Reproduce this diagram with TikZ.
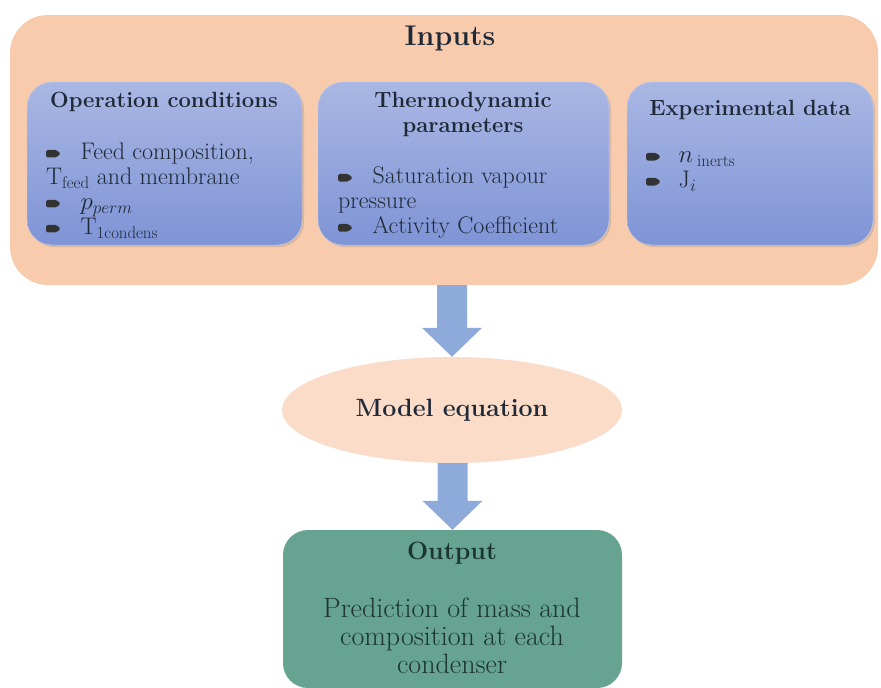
\documentclass[tikz,border=0pt]{standalone}
\usepackage{amsmath,amssymb}
\usepackage{tikz}
\usepackage{xcolor}
\usetikzlibrary{shapes.geometric,shadows,calc}

\definecolor{inpeach}{HTML}{F8CBAD}
\definecolor{elpeach}{HTML}{FBDCC9}
\definecolor{bluetop}{HTML}{A9B7E3}
\definecolor{bluebot}{HTML}{7F94D6}
\definecolor{arrowblue}{HTML}{8EAADB}
\definecolor{outgreen}{HTML}{66A390}
\definecolor{inktext}{HTML}{1F2937}
\definecolor{outtext}{HTML}{1C3530}

\newcommand{\pointer}{\tikz[baseline=-0.6ex]\fill[black!80,rounded corners=1.5pt] (0,-3.8pt) -- (10pt,-3.8pt) -- (14.5pt,0) -- (10pt,3.8pt) -- (0,3.8pt) -- cycle;}
\newcommand{\blockarrow}[2]{%
  \fill[arrowblue] let \p1=(#1), \p2=(#2) in
    (\x2-15pt,\y1) -- (\x2-15pt,\y2+29pt) -- (\x2-30pt,\y2+29pt) -- (\x2,\y2)
    -- (\x2+30pt,\y2+29pt) -- (\x2+15pt,\y2+29pt) -- (\x2+15pt,\y1) -- cycle;}

\begin{document}
\begin{tikzpicture}[x=1pt,y=-1pt,
    inbox/.style={fill=inpeach,rounded corners=38pt,inner sep=0},
    bluebox/.style={top color=bluetop,bottom color=bluebot,draw=bluetop!70!white,
        rounded corners=25pt,minimum height=163pt,inner sep=0,
        drop shadow={opacity=0.25,shadow xshift=2pt,shadow yshift=-2pt}},
    head/.style={text=inktext,font=\fontsize{22}{25}\selectfont\bfseries,align=center},
    items/.style={text=inktext,font=\fontsize{24}{25}\selectfont,align=left,
        anchor=north west,inner sep=0},
    model/.style={ellipse,fill=elpeach,minimum width=340pt,minimum height=106pt,
        inner sep=0,text=inktext,font=\fontsize{25}{28}\selectfont\bfseries},
    outbox/.style={fill=outgreen,rounded corners=25pt,minimum width=339pt,
        minimum height=158pt,inner sep=0}]
    \useasboundingbox (0,0) rectangle (881,688);

    % Inputs
    \node[inbox,minimum width=868pt,minimum height=270pt] (inputs) at (444,150) {};
    \node[text=inktext,font=\fontsize{28.5}{30}\selectfont\bfseries] (inputs-t) at (450,38) {Inputs};

    \node[bluebox,minimum width=275pt] (oc) at (164.5,163.5) {};
    \node[bluebox,minimum width=291pt] (tp) at (463.5,163.5) {};
    \node[bluebox,minimum width=246pt] (ed) at (750,163.5) {};

    \node[head] (oc-t) at (164,102) {Operation conditions};
    \node[head] (tp-t) at (463,114) {Thermodynamic\\parameters};
    \node[head] (ed-t) at (750,110) {Experimental data};

    \node[items] (oc-l) at (46,143) {\pointer\hspace{20pt}Feed composition,\\
        T$_{\text{feed}}$ and membrane\\
        \pointer\hspace{20pt}$p_{perm}$\\
        \pointer\hspace{20pt}T$_{\text{1condens}}$};
    \node[items] (tp-l) at (338,167) {\pointer\hspace{20pt}Saturation vapour\\
        pressure\\
        \pointer\hspace{20pt}Activity Coefficient};
    \node[items] (ed-l) at (646,152) {\pointer\hspace{18pt}$n$\,$_{\text{inerts}}$\\
        \pointer\hspace{18pt}J$_i$};

    % Model and output
    \node[model] (model) at (452,410) {Model equation};
    \node[outbox] (output) at (452.5,609) {};
    \node[text=outtext,font=\fontsize{25}{28}\selectfont\bfseries] (output-t) at (452,553) {Output};
    \node[text=outtext,font=\fontsize{28}{28}\selectfont,align=center] (output-l) at (452,636)
        {Prediction of mass and\\composition at each\\condenser};

    % Arrows
    \blockarrow{inputs.south}{model.north}
    \blockarrow{model.south}{output.north}
\end{tikzpicture}
\end{document}
